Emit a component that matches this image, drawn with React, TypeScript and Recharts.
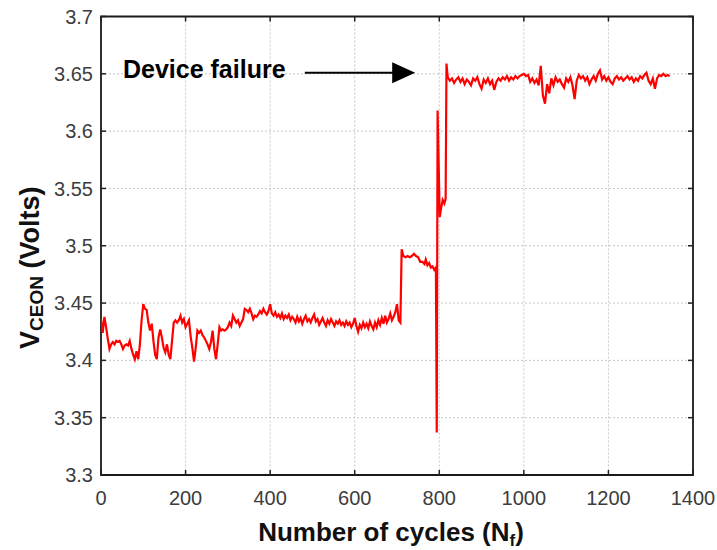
import { CartesianGrid, Line, LineChart, ReferenceArea, ReferenceDot, ReferenceLine, XAxis, YAxis } from "recharts";

// V_CE(on) sampled over power-cycling, cycles 0..1345
const earlyStart = 0;
const earlyStep = 4;
const earlyVce = [
  3.436, 3.424, 3.438, 3.429, 3.419, 3.410, 3.414, 3.416, 3.414, 3.417,
  3.416, 3.417, 3.414, 3.410, 3.413, 3.414, 3.413, 3.417, 3.410, 3.405,
  3.401, 3.408, 3.401, 3.414, 3.435, 3.449, 3.445, 3.444, 3.433, 3.426,
  3.432, 3.417, 3.405, 3.401, 3.420, 3.427, 3.420, 3.411, 3.407, 3.414,
  3.405, 3.401, 3.417, 3.433, 3.435, 3.433, 3.435, 3.439, 3.433, 3.436,
  3.429, 3.432, 3.435, 3.421, 3.411, 3.399, 3.411, 3.426, 3.424, 3.426,
  3.422, 3.420, 3.417, 3.414, 3.410, 3.416, 3.426, 3.410, 3.401, 3.414,
  3.429, 3.426, 3.427, 3.426, 3.427, 3.429, 3.433, 3.430, 3.439, 3.436,
  3.433, 3.435, 3.430, 3.433, 3.436, 3.445, 3.444, 3.442, 3.445, 3.441,
  3.436, 3.439, 3.438,
];

const midStart = 372;
const midStep = 4;
const midVce = [
  3.440, 3.443, 3.441, 3.445, 3.442, 3.440, 3.443, 3.449,
  3.441, 3.439, 3.442, 3.438, 3.440, 3.437, 3.441, 3.436, 3.439, 3.437,
  3.440, 3.435, 3.438, 3.436, 3.433, 3.438, 3.434, 3.437, 3.432, 3.436,
  3.439, 3.434, 3.436, 3.433, 3.437, 3.440, 3.434, 3.436, 3.431, 3.434,
  3.437, 3.433, 3.430, 3.435, 3.432, 3.436, 3.433, 3.430, 3.434, 3.432,
  3.435, 3.431, 3.433, 3.430, 3.434, 3.431, 3.433, 3.429, 3.432, 3.437,
  3.430, 3.425, 3.431, 3.428, 3.433, 3.429, 3.432, 3.428, 3.434, 3.430,
  3.427, 3.433, 3.429, 3.435, 3.431, 3.437, 3.432, 3.439, 3.433, 3.436,
  3.441, 3.435, 3.438, 3.442, 3.449, 3.435, 3.433,
];

// step up, collapse and recovery around failure
const failCycles = [
  711, 715, 720, 725, 730, 735, 740, 745, 750, 755, 760, 765, 768, 772,
  776, 780, 784, 788, 792, 794, 796, 801, 804, 808, 812, 815, 817, 820,
];
const failVce = [
  3.497, 3.491, 3.490, 3.491, 3.490, 3.491, 3.493, 3.491, 3.490, 3.486,
  3.486, 3.484, 3.488, 3.483, 3.485, 3.481, 3.482, 3.479, 3.481, 3.337,
  3.618, 3.525, 3.532, 3.540, 3.537, 3.541, 3.659, 3.647,
];

const lateStart = 825;
const lateStep = 5;
const lateVce = [
  3.644, 3.646, 3.642, 3.645, 3.647, 3.643, 3.646, 3.641, 3.645, 3.643,
  3.640, 3.646, 3.644, 3.647, 3.641, 3.637, 3.645, 3.642, 3.646, 3.641,
  3.644, 3.636, 3.643, 3.646, 3.644, 3.647, 3.645, 3.648, 3.644, 3.647,
  3.645, 3.648, 3.646, 3.648, 3.649, 3.650, 3.648, 3.649, 3.643, 3.646,
  3.642, 3.645, 3.640, 3.657, 3.631, 3.624, 3.641, 3.633, 3.646, 3.640,
  3.647, 3.643, 3.645, 3.641, 3.638, 3.646, 3.643, 3.647, 3.640, 3.628,
  3.644, 3.649, 3.646, 3.648, 3.644, 3.647, 3.641, 3.645, 3.648, 3.644,
  3.650, 3.653, 3.645, 3.648, 3.644, 3.647, 3.643, 3.641, 3.646, 3.648,
  3.645, 3.647, 3.644, 3.646, 3.648, 3.645, 3.647, 3.643, 3.646, 3.644,
  3.648, 3.646, 3.649, 3.651, 3.644, 3.641, 3.646, 3.637, 3.646, 3.649,
  3.648, 3.650, 3.648, 3.649, 3.648,
];

const xTicks = [0, 200, 400, 600, 800, 1000, 1200, 1400];
const yTicks = [3.3, 3.35, 3.4, 3.45, 3.5, 3.55, 3.6, 3.65, 3.7];

const failureText = "Device failure";
const failureTextAt = { x: 52, y: 3.65 };
const failureArrow = [{ x: 482, y: 3.651 }, { x: 743, y: 3.651 }];

const W = 717;
const H = 550;
const MARGIN = { top: 16.5, right: 24, bottom: 35, left: 41 };
const Y_AXIS_W = 60;
const X_AXIS_H = 40;
const PLOT_TOP = MARGIN.top;
const PLOT_BOTTOM = H - MARGIN.bottom - X_AXIS_H;
const PLOT_LEFT = MARGIN.left + Y_AXIS_W;
const PLOT_RIGHT = W - MARGIN.right;
const FONT = '"Liberation Sans", Arial, Helvetica, sans-serif';
const TICK_LEN = 5;

const stepped = (start: number, step: number, vals: number[]) =>
  vals.map((v, i) => ({ cycle: start + i * step, v }));

const data = [
  ...stepped(earlyStart, earlyStep, earlyVce),
  ...stepped(midStart, midStep, midVce),
  ...failCycles.map((c, i) => ({ cycle: c, v: failVce[i] })),
  ...stepped(lateStart, lateStep, lateVce),
];

// tick label plus inward tick marks on bottom and top edges
const XTick = (p: any) => {
  const { x, y, payload } = p;
  return (
    <g>
      <line x1={x} x2={x} y1={PLOT_BOTTOM} y2={PLOT_BOTTOM - TICK_LEN} stroke="#222" strokeWidth={1.5} />
      <line x1={x} x2={x} y1={PLOT_TOP} y2={PLOT_TOP + TICK_LEN} stroke="#222" strokeWidth={1.5} />
      <text x={x} y={y} dy="0.71em" textAnchor="middle" fontSize={20} fill="#3c3c3c" fontFamily={FONT}>
        {payload.value}
      </text>
    </g>
  );
};

const YTick = (p: any) => {
  const { x, y, payload } = p;
  return (
    <g>
      <line x1={PLOT_LEFT} x2={PLOT_LEFT + TICK_LEN} y1={y} y2={y} stroke="#222" strokeWidth={1.5} />
      <line x1={PLOT_RIGHT} x2={PLOT_RIGHT - TICK_LEN} y1={y} y2={y} stroke="#222" strokeWidth={1.5} />
      <text x={x} y={y} dy="0.355em" textAnchor="end" fontSize={20} fill="#3c3c3c" fontFamily={FONT}>
        {String(payload.value)}
      </text>
    </g>
  );
};

const yTitle = () => {
  const cx = 39;
  const cy = (PLOT_TOP + PLOT_BOTTOM) / 2 + 22;
  return (
    <text x={cx} y={cy} transform={`rotate(-90, ${cx}, ${cy})`} textAnchor="middle"
          fontFamily={FONT} fontWeight="bold" fill="#111">
      <tspan fontSize={27}>V</tspan>
      <tspan fontSize={19} dy={4}>CEON</tspan>
      <tspan fontSize={27} dy={-4}> (Volts)</tspan>
    </text>
  );
};

const xTitle = () => {
  const cx = (PLOT_LEFT + PLOT_RIGHT) / 2 - 6;
  return (
    <text x={cx} y={541} textAnchor="middle" fontFamily={FONT} fontWeight="bold" fill="#111" fontSize={26}>
      <tspan>Number of cycles (N</tspan>
      <tspan fontSize={17} dy={5}>f</tspan>
      <tspan dy={-5}>)</tspan>
    </text>
  );
};

const ArrowShape = (p: any) => {
  const { x1, y1, x2 } = p;
  const head = 23;
  return (
    <g>
      <line x1={x1} y1={y1} x2={x2 - head + 2} y2={y1} stroke="#000" strokeWidth={2} />
      <polygon points={`${x2 - head},${y1 - 10.5} ${x2},${y1} ${x2 - head},${y1 + 10.5}`} fill="#000" />
    </g>
  );
};

const FailureLabel = (p: any) => (
  <text x={p.cx} y={p.cy} dy={4.5} fontFamily={FONT} fontWeight="bold" fontSize={25} fill="#000">
    {failureText}
  </text>
);

export default function App() {
  return (
    <div style={{ position: "absolute", left: 0, top: 0, width: W, height: H, background: "#fff" }}>
      <LineChart width={W} height={H} data={data} margin={MARGIN}>
        <CartesianGrid stroke="#c4c7cf" strokeDasharray="2 2" />
        <XAxis dataKey="cycle" type="number" domain={[0, 1400]} ticks={xTicks} allowDataOverflow
               height={X_AXIS_H} axisLine={false} tickLine={false} tickSize={0} tickMargin={16}
               tick={<XTick />} label={xTitle} />
        <YAxis type="number" domain={[3.3, 3.7]} ticks={yTicks} allowDataOverflow
               width={Y_AXIS_W} axisLine={false} tickLine={false} tickSize={0} tickMargin={8}
               tick={<YTick />} label={yTitle} />
        <ReferenceArea x1={0} x2={1400} y1={3.3} y2={3.7} fill="none" stroke="#1a1a1a" strokeWidth={1.8} />
        <Line dataKey="v" type="linear" stroke="#ff0000" strokeWidth={2.2} dot={false} isAnimationActive={false} />
        <ReferenceLine segment={failureArrow} shape={<ArrowShape />} />
        <ReferenceDot x={failureTextAt.x} y={failureTextAt.y} r={0} shape={<FailureLabel />} />
      </LineChart>
    </div>
  );
}
